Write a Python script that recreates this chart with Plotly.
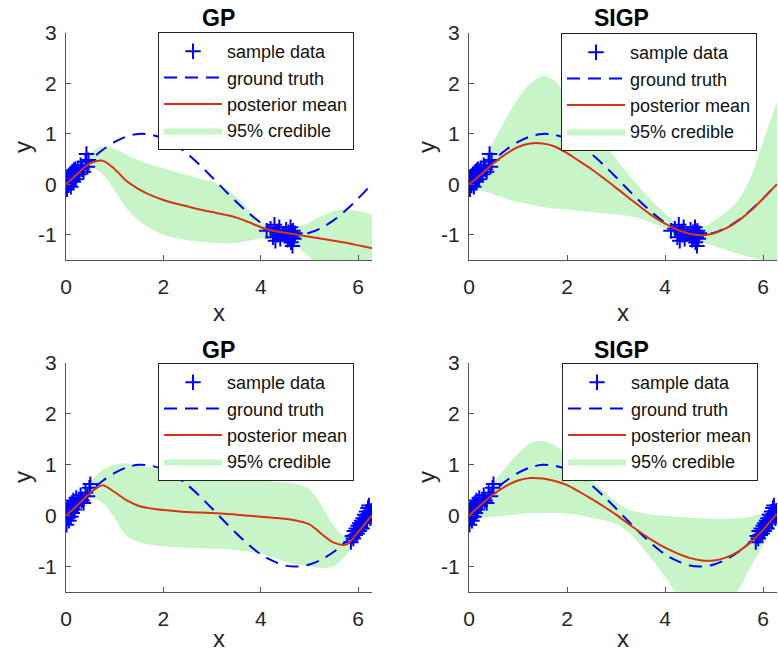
import plotly.graph_objects as go

FONT = "Liberation Sans, Arial, Helvetica, sans-serif"

# ---------------- data ----------------
XG = [0, 0.25, 0.5, 0.75, 1.0, 1.25, 1.5, 1.75, 2.0, 2.25, 2.5, 2.75, 3.0,
      3.25, 3.5, 3.75, 4.0, 4.25, 4.5, 4.75, 5.0, 5.25, 5.5, 5.75, 6.0,
      6.25, 6.2832]

GT_Y = [0, 0.25, 0.48, 0.68, 0.84, 0.95, 1.00, 0.98, 0.91, 0.78, 0.60, 0.38,
        0.14, -0.11, -0.35, -0.57, -0.76, -0.89, -0.98, -1.00, -0.96, -0.86,
        -0.71, -0.51, -0.28, -0.03, 0.0]

# panel 1: GP (top left)
TL_MEAN = [0, 0.22, 0.42, 0.47, 0.30, 0.06, -0.10, -0.22, -0.31, -0.38, -0.44,
           -0.50, -0.55, -0.60, -0.66, -0.75, -0.85, -0.92, -0.96, -1.00,
           -1.04, -1.08, -1.12, -1.16, -1.21, -1.26, -1.27]
TL_UP = [0.10, 0.35, 0.62, 0.75, 0.70, 0.58, 0.47, 0.39, 0.32, 0.25, 0.18,
         0.11, 0.05, -0.06, -0.25, -0.50, -0.74, -0.82, -0.86, -0.84, -0.76,
         -0.63, -0.53, -0.50, -0.53, -0.58, -0.58]
TL_LO = [-0.10, 0.08, 0.33, 0.20, -0.12, -0.48, -0.72, -0.88, -1.00, -1.07,
         -1.11, -1.14, -1.16, -1.17, -1.16, -1.12, -1.07, -1.10, -1.15, -1.24,
         -1.45, -1.65, -1.80, -1.90, -1.95, -2.00, -2.00]

# panel 2: SIGP (top right)
TR_MEAN = [0, 0.20, 0.42, 0.60, 0.74, 0.81, 0.81, 0.75, 0.62, 0.46, 0.30,
           0.12, -0.07, -0.26, -0.45, -0.63, -0.78, -0.90, -0.98, -1.01,
           -0.97, -0.87, -0.72, -0.52, -0.28, -0.03, 0.0]
TR_UP = [0.10, 0.45, 0.85, 1.30, 1.70, 2.00, 2.15, 2.05, 1.75, 1.45, 1.15,
         0.82, 0.50, 0.20, -0.08, -0.35, -0.57, -0.80, -0.88, -0.86, -0.72,
         -0.55, -0.30, 0.15, 0.85, 1.55, 1.65]
TR_LO = [-0.10, -0.12, -0.20, -0.28, -0.35, -0.40, -0.45, -0.48, -0.50,
         -0.53, -0.55, -0.58, -0.60, -0.63, -0.68, -0.77, -0.88, -1.05,
         -1.12, -1.15, -1.22, -1.30, -1.38, -1.45, -1.50, -1.55, -1.55]

# panel 3: GP (bottom left)
BL_MEAN = [0, 0.22, 0.45, 0.60, 0.46, 0.30, 0.19, 0.14, 0.11, 0.09, 0.07,
           0.06, 0.05, 0.04, 0.02, 0.0, -0.02, -0.04, -0.06, -0.10, -0.17,
           -0.36, -0.53, -0.57, -0.32, -0.03, 0.0]
BL_UP = [0.10, 0.40, 0.68, 0.90, 1.00, 1.03, 0.98, 0.94, 0.90, 0.87, 0.85,
         0.82, 0.80, 0.77, 0.75, 0.72, 0.70, 0.67, 0.65, 0.62, 0.52, 0.20,
         -0.20, -0.42, -0.20, 0.10, 0.12]
BL_LO = [-0.10, 0.10, 0.35, 0.25, -0.05, -0.40, -0.52, -0.57, -0.60, -0.62,
         -0.63, -0.64, -0.65, -0.66, -0.68, -0.71, -0.75, -0.82, -0.90, -0.96,
         -1.00, -1.03, -1.00, -0.78, -0.45, -0.12, -0.10]

# panel 4: SIGP (bottom right)
BR_MEAN = [0, 0.22, 0.42, 0.58, 0.69, 0.74, 0.73, 0.68, 0.60, 0.47, 0.33,
           0.18, 0.02, -0.16, -0.33, -0.49, -0.63, -0.74, -0.83, -0.88,
           -0.88, -0.82, -0.70, -0.52, -0.28, 0.0, 0.03]
BR_UP = [0.10, 0.35, 0.65, 0.95, 1.22, 1.42, 1.47, 1.38, 1.20, 0.97, 0.72,
         0.48, 0.28, 0.12, 0.06, 0.02, 0.0, -0.02, -0.04, -0.05, -0.06, -0.06,
         -0.05, -0.02, 0.05, 0.14, 0.15]
BR_LO = [-0.10, -0.05, -0.02, 0.0, 0.03, 0.05, 0.05, 0.05, 0.04, 0.01, -0.04,
         -0.09, -0.17, -0.32, -0.58, -0.88, -1.20, -1.55, -1.80, -1.90, -1.90,
         -1.75, -1.45, -1.00, -0.58, -0.15, -0.12]

# sample data (top row: clusters near 0 and 3π/2 ; bottom row: near 0 and 2π)
TOP_SX = [0.00, 0.01, 0.02, 0.03, 0.04, 0.05, 0.06, 0.07, 0.08, 0.09, 0.10,
          0.11, 0.12, 0.13, 0.14, 0.15, 0.16, 0.18, 0.19, 0.20, 0.22, 0.24,
          0.27, 0.30, 0.33, 0.36, 0.40, 0.42, 0.44, 0.46,
          4.12, 4.20, 4.25, 4.28, 4.30, 4.33, 4.35, 4.38, 4.40, 4.45, 4.50,
          4.52, 4.55, 4.57, 4.58, 4.60, 4.61, 4.62, 4.63, 4.64, 4.65, 4.66,
          4.67, 4.68, 4.70]
TOP_SY = [-0.05, 0.08, -0.10, 0.05, 0.12, -0.02, 0.15, 0.02, 0.20, 0.10,
          -0.05, 0.22, 0.08, 0.25, 0.15, 0.05, 0.28, 0.18, 0.30, 0.10, 0.25,
          0.32, 0.20, 0.38, 0.30, 0.25, 0.45, 0.60, 0.35, 0.48,
          -0.92, -0.88, -1.05, -0.80, -1.12, -0.95, -1.00, -0.85, -1.08, -0.98,
          -1.02, -0.90, -1.10, -0.95, -1.05, -1.00, -0.85, -1.15, -0.95, -1.05,
          -1.22, -0.92, -1.00, -1.08, -0.97]
BOT_SX = [0.00, 0.01, 0.02, 0.03, 0.04, 0.05, 0.06, 0.07, 0.08, 0.09, 0.10,
          0.11, 0.12, 0.13, 0.14, 0.15, 0.17, 0.19, 0.21, 0.23, 0.26, 0.30,
          0.33, 0.36, 0.40, 0.44, 0.48, 0.50,
          5.85, 5.88, 5.90, 5.92, 5.94, 5.96, 5.98, 6.00, 6.02, 6.03, 6.05,
          6.07, 6.08, 6.10, 6.12, 6.13, 6.15, 6.17, 6.18, 6.20, 6.21, 6.22,
          6.24, 6.25, 6.27]
BOT_SY = [0.05, -0.18, 0.10, -0.05, 0.15, 0.00, -0.10, 0.12, 0.05, 0.20,
          -0.02, 0.10, 0.25, 0.05, 0.18, 0.30, 0.12, 0.22, 0.35, 0.20, 0.28,
          0.40, 0.30, 0.25, 0.45, 0.38, 0.55, 0.62,
          -0.52, -0.40, -0.45, -0.30, -0.38, -0.25, -0.35, -0.20, -0.30, -0.15,
          -0.22, -0.10, -0.25, -0.05, -0.15, 0.02, -0.08, 0.08, -0.12, 0.15,
          0.00, 0.20, 0.05, -0.05, 0.10]

TITLES = ["GP", "SIGP", "GP", "SIGP"]
LEGEND_LABELS = ["sample data", "ground truth", "posterior mean", "95% credible"]
X_TICKS = [0, 2, 4, 6]
Y_TICKS = [-1, 0, 1, 2, 3]
Y_TICKTEXT = ["-1", "0", "1", "2", "3"]

panels = [
    (TL_MEAN, TL_UP, TL_LO, TOP_SX, TOP_SY),
    (TR_MEAN, TR_UP, TR_LO, TOP_SX, TOP_SY),
    (BL_MEAN, BL_UP, BL_LO, BOT_SX, BOT_SY),
    (BR_MEAN, BR_UP, BR_LO, BOT_SX, BOT_SY),
]

# ---------------- layout geometry (pixels) ----------------
W, H = 778, 656
plot_boxes = [  # left, right, top, bottom in pixels
    (66, 372, 33, 260),
    (469, 777, 33, 260),
    (66, 372, 363, 592),
    (469, 777, 363, 592),
]
legend_pos = [(158, 32), (561, 33), (158, 363), (562, 363)]
title_pos = [(218, 18), (621, 18), (218, 350), (621, 350)]
xlab_pos = [(219, 328), (623, 328), (219, 654), (623, 654)]   # bottom of text box
ylab_pos = [(22, 147), (426, 147), (22, 477), (426, 477)]

GREEN = "rgb(200,245,200)"
RED = "rgb(212,52,20)"
BLUE = "rgb(0,0,255)"
AX = "#555555"

fig = go.Figure()
layout = dict(width=W, height=H, margin=dict(l=0, r=0, t=0, b=0, autoexpand=False),
              paper_bgcolor="white", plot_bgcolor="white",
              font=dict(family=FONT, color="#262626"), annotations=[])

SPL = dict(shape="spline", smoothing=0.9)

for i, (mean, up, lo, sx, sy) in enumerate(panels):
    k = "" if i == 0 else str(i + 1)
    xa, ya = "x" + k, "y" + k
    leg = "legend" + k
    # band
    fig.add_trace(go.Scatter(x=XG, y=lo, mode="lines", line=dict(width=0, **SPL),
                             xaxis=xa, yaxis=ya, showlegend=False, hoverinfo="skip", legend=leg))
    fig.add_trace(go.Scatter(x=XG, y=up, mode="lines", line=dict(width=0, **SPL),
                             fill="tonexty", fillcolor=GREEN, name=LEGEND_LABELS[3],
                             xaxis=xa, yaxis=ya, legend=leg, legendrank=4))
    # samples
    fig.add_trace(go.Scatter(x=sx, y=sy, mode="markers", name=LEGEND_LABELS[0],
                             marker=dict(symbol="cross-thin", size=11, color=BLUE,
                                         line=dict(width=2, color=BLUE)),
                             xaxis=xa, yaxis=ya, legend=leg, legendrank=1))
    # ground truth
    fig.add_trace(go.Scatter(x=XG, y=GT_Y, mode="lines", name=LEGEND_LABELS[1],
                             line=dict(color=BLUE, width=2, dash="13px,8px", **SPL),
                             xaxis=xa, yaxis=ya, legend=leg, legendrank=2))
    # posterior mean
    fig.add_trace(go.Scatter(x=XG, y=mean, mode="lines", name=LEGEND_LABELS[2],
                             line=dict(color=RED, width=2, **SPL),
                             xaxis=xa, yaxis=ya, legend=leg, legendrank=3))

    l, r, t, b = plot_boxes[i]
    axis_common = dict(showgrid=False, zeroline=False, showline=True, linecolor=AX,
                       linewidth=1, ticks="inside", ticklen=5, tickcolor=AX,
                       tickfont=dict(size=21, family=FONT, color="#262626"),
                       mirror=False, fixedrange=True)
    layout["xaxis" + k] = dict(axis_common, domain=[l / W, r / W], range=[0, 6.2832],
                               tickvals=X_TICKS, anchor=ya, ticklabelstandoff=8)
    layout["yaxis" + k] = dict(axis_common, domain=[1 - b / H, 1 - t / H], range=[-1.5, 3],
                               tickvals=Y_TICKS, ticktext=Y_TICKTEXT, anchor=xa,
                               ticklabelstandoff=4)
    lx, ly = legend_pos[i]
    layout[leg] = dict(x=lx / W, y=1 - ly / H, xanchor="left", yanchor="top",
                       bgcolor="white", bordercolor="#222222", borderwidth=1,
                       font=dict(size=18, family=FONT, color="#111111"),
                       itemwidth=58, tracegroupgap=0, traceorder="normal")
    tx, ty = title_pos[i]
    layout["annotations"].append(dict(text="<b>" + TITLES[i] + "</b>", x=tx / W, y=1 - ty / H,
                                      xref="paper", yref="paper", showarrow=False,
                                      xanchor="center", yanchor="middle",
                                      font=dict(size=23, family=FONT, color="black")))
    xx, xy = xlab_pos[i]
    layout["annotations"].append(dict(text="x", x=xx / W, y=1 - xy / H, xref="paper", yref="paper",
                                      showarrow=False, xanchor="center", yanchor="bottom",
                                      font=dict(size=24, family=FONT, color="#262626")))
    yx, yy = ylab_pos[i]
    layout["annotations"].append(dict(text="y", x=yx / W, y=1 - yy / H, xref="paper", yref="paper",
                                      showarrow=False, xanchor="center", yanchor="middle",
                                      textangle=-90,
                                      font=dict(size=24, family=FONT, color="#262626")))

fig.update_layout(**layout)
fig.write_html("out.html", config={"displayModeBar": False},
               post_script="document.body.style.margin='0px';document.body.style.overflow='hidden';")
